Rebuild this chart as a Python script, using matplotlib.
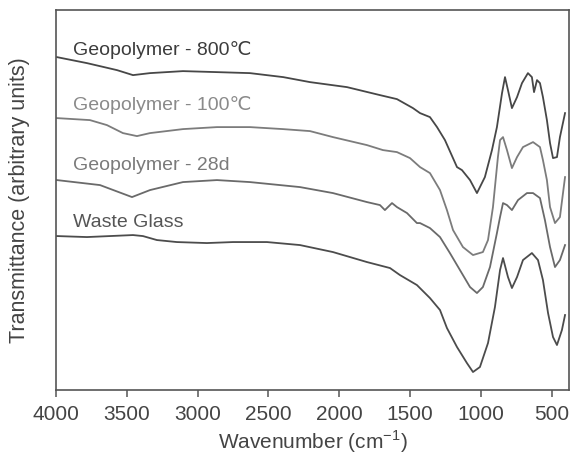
import matplotlib
matplotlib.use("Agg")
from matplotlib import pyplot as plt

plt.rcParams['font.family'] = ['Liberation Sans', 'DejaVu Sans']
plt.rcParams['mathtext.fontset'] = 'custom'
plt.rcParams['mathtext.rm'] = 'Liberation Sans'

# FTIR spectra, wavenumber (cm-1) vs transmittance (arbitrary units, offset per sample)
wn_800 = [3993, 3781, 3569, 3456, 3336, 3103, 2863, 2630, 2395, 2206, 1945, 1712, 1592,
          1479, 1429, 1359, 1309, 1253, 1168, 1133, 1076, 1027, 971, 921, 886, 850, 829,
          808, 780, 744, 709, 667, 639, 624, 603, 582, 561, 533, 511, 490, 462, 441, 405]
t_800 = [333, 327, 320, 315, 317, 319, 318, 317, 313, 308, 303, 295, 291,
         282, 277, 273, 263, 250, 223, 220, 210, 197, 213, 240, 263, 297, 313,
         300, 282, 293, 307, 317, 313, 298, 310, 307, 293, 270, 247, 232, 233, 253, 277]

wn_100 = [3993, 3760, 3640, 3527, 3428, 3336, 3103, 2863, 2630, 2397, 2206, 2044, 1804,
          1691, 1592, 1500, 1429, 1359, 1288, 1239, 1196, 1126, 1055, 985, 949, 914, 879,
          864, 843, 815, 780, 744, 702, 631, 582, 561, 533, 511, 476, 441, 405]
t_100 = [272, 270, 265, 257, 254, 257, 261, 263, 263, 261, 259, 253, 245,
         240, 238, 232, 223, 217, 200, 180, 160, 143, 135, 138, 150, 183, 233,
         250, 253, 240, 222, 233, 243, 248, 243, 230, 210, 183, 167, 173, 213]

wn_28d = [3993, 3689, 3463, 3336, 3103, 2863, 2630, 2277, 2044, 1804, 1712, 1677, 1627,
          1592, 1521, 1451, 1429, 1359, 1288, 1218, 1147, 1076, 1027, 985, 935, 886, 864,
          843, 815, 780, 737, 674, 631, 582, 547, 511, 476, 441, 405]
t_28d = [210, 205, 193, 200, 208, 210, 208, 203, 197, 188, 185, 180, 187,
         183, 177, 167, 167, 162, 153, 137, 120, 103, 97, 103, 123, 157, 173,
         187, 185, 180, 190, 197, 197, 192, 170, 143, 123, 130, 145]

wn_glass = [3993, 3781, 3619, 3456, 3386, 3287, 3146, 2934, 2750, 2510, 2277, 2044, 1804,
            1641, 1571, 1451, 1359, 1288, 1239, 1168, 1098, 1055, 1006, 949, 900, 864, 843,
            808, 780, 744, 702, 639, 596, 561, 525, 490, 462, 427, 405]
t_glass = [154, 153, 154, 155, 154, 150, 148, 147, 148, 148, 145, 138, 128,
           122, 115, 105, 92, 80, 62, 43, 27, 18, 23, 47, 83, 120, 132,
           113, 102, 113, 130, 137, 130, 110, 77, 53, 45, 60, 75]

labels = ['Geopolymer - 800\u2103', 'Geopolymer - 100\u2103', 'Geopolymer - 28d', 'Waste Glass']
label_y = [335, 280, 220, 163]

series = [(wn_800, t_800), (wn_100, t_100), (wn_28d, t_28d), (wn_glass, t_glass)]
line_colors = ['#474747', '#7c7c7c', '#6a6a6a', '#4c4c4c']
text_colors = ['#3c3c3c', '#8a8a8a', '#7a7a7a', '#555555']

fig = plt.figure(figsize=(5.71, 4.61), dpi=100)
ax = fig.add_axes([0.098, 0.154, 0.8985, 0.824])

for (wn, t), lc in zip(series, line_colors):
    ax.plot(wn, t, color=lc, linewidth=1.3, solid_joinstyle='round')

for lab, y, tc in zip(labels, label_y, text_colors):
    ax.text(3880, y, lab, color=tc, fontsize=14, va='baseline', ha='left')

ax.set_xlim(4000, 377)
ax.set_ylim(0, 380)
ax.set_xticks([4000, 3500, 3000, 2500, 2000, 1500, 1000, 500])
ax.set_yticks([])
ax.tick_params(axis='x', direction='out', length=5, width=1.1, color='#555555',
               labelsize=15, labelcolor='#444444', pad=6)

for sp in ax.spines.values():
    sp.set_color('#555555')
    sp.set_linewidth(1.2)

ax.set_xlabel('Wavenumber (cm$^{-1}$)', fontsize=15, color='#444444', labelpad=3)
ax.set_ylabel('Transmittance (arbitrary units)', fontsize=15.5, color='#444444')
ax.yaxis.set_label_coords(-0.05, 0.5)

fig.savefig('out.png', dpi=100)
